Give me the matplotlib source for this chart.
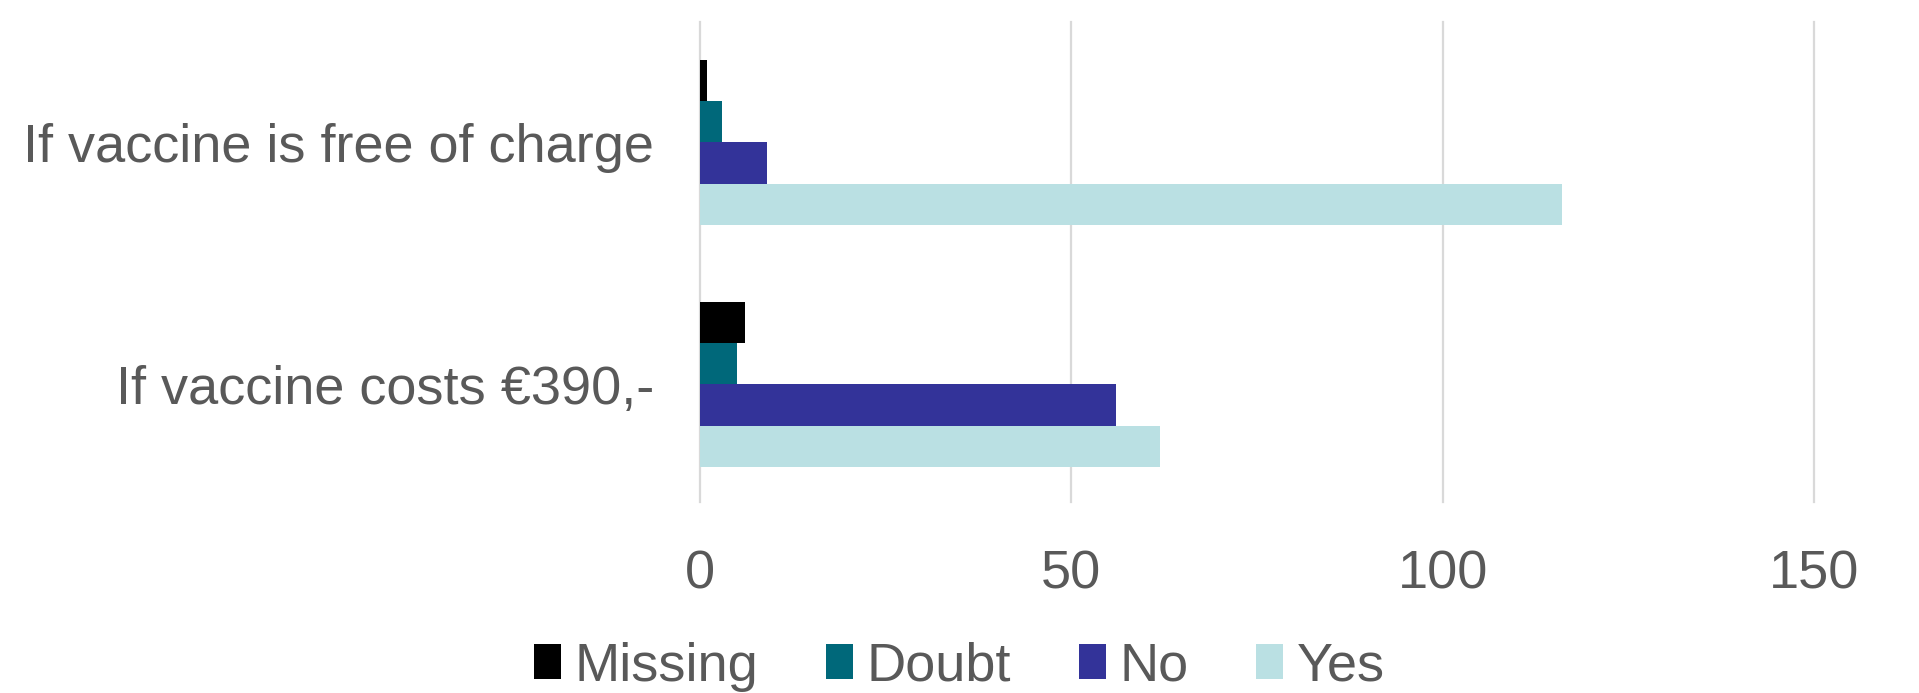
import matplotlib.pyplot as plt
import numpy as np
from matplotlib.patches import Patch

plt.rcParams['font.family'] = ['Liberation Sans', 'DejaVu Sans']

categories = ['If vaccine costs €390,-', 'If vaccine is free of charge']
series = ['Missing', 'Doubt', 'No', 'Yes']
missing = [6, 1]
doubt = [5, 3]
no = [56, 9]
yes = [62, 116]
colors = ['#000000', '#00687A', '#333399', '#BAE0E3']

text_col = '#595959'

fig = plt.figure(figsize=(19.19, 6.93), dpi=100)
ax = fig.add_axes([0.3648, 0.2756, 0.5805, 0.6927])

y = np.arange(len(categories))
h = 0.171
offsets = [1.5 * h, 0.5 * h, -0.5 * h, -1.5 * h]
for vals, off, c in zip([missing, doubt, no, yes], offsets, colors):
    ax.barh(y + off, vals, height=h, color=c, zorder=3)

ax.set_xlim(0, 150)
ax.set_ylim(-0.486, 1.498)
ax.set_xticks([0, 50, 100, 150])
ax.set_yticks(y)
ax.set_yticklabels(categories)
for xv in [0, 50, 100, 150]:
    ax.axvline(xv, color='#D9D9D9', lw=1.6, zorder=1, clip_on=False)
for s in ax.spines.values():
    s.set_visible(False)
ax.tick_params(axis='both', length=0, labelsize=39, colors=text_col)
ax.tick_params(axis='x', pad=34)
ax.tick_params(axis='y', pad=33)

handles = [Patch(facecolor=c) for c in colors]
fig.legend(handles, series, loc='center', bbox_to_anchor=(0.5, 0.038), ncol=4,
           frameon=False, fontsize=39, labelcolor=text_col, handlelength=0.5,
           handleheight=0.6, handletextpad=0.25, columnspacing=1.25)

fig.savefig('out.png', dpi=100)
